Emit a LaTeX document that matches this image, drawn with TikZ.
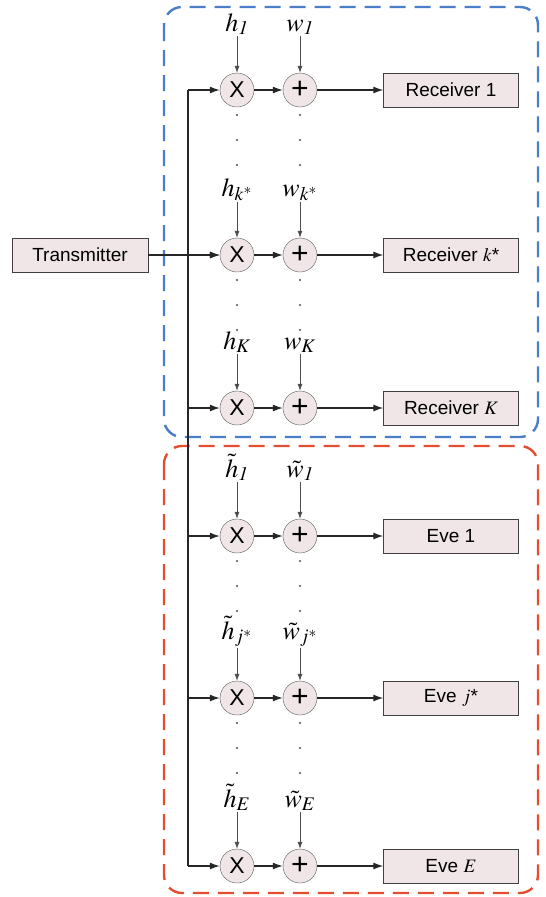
\documentclass[tikz,border=0pt]{standalone}
\usepackage{mathptmx}
\usepackage[no-math]{fontspec}
\setmainfont{Liberation Sans}
\usetikzlibrary{arrows.meta}

\definecolor{boxfill}{RGB}{240,230,232}
\definecolor{zoneblue}{RGB}{74,126,200}
\definecolor{zonered}{RGB}{228,78,48}

\tikzset{
  opnode/.style={circle, draw=black!65, fill=boxfill, minimum size=34pt, inner sep=0pt, font=\fontsize{23}{23}\selectfont},
  rxbox/.style={rectangle, draw=black!75, fill=boxfill, minimum width=135pt, minimum height=34pt, inner sep=0pt, font=\fontsize{19}{21}\selectfont},
  lbl/.style={anchor=base, inner sep=1pt, font=\fontsize{26}{28}\selectfont},
  flow/.style={-{Latex[length=10pt,width=7pt]}, line width=1.2pt, draw=black!85},
  feed/.style={-{Latex[length=7pt,width=5pt]}, line width=0.7pt, draw=black!70},
  zone/.style={dash pattern=on 16pt off 9pt, line width=2.4pt, rounded corners=18pt},
}

% one branch: name, y, channel label, noise label, receiver text
\newcommand{\branch}[5]{%
  \node[opnode] (mul#1) at (237,#2) {X};
  \node[opnode, font=\fontsize{30}{30}\selectfont] (add#1) at (300,#2) {\raisebox{1pt}{+}};
  \node[rxbox] (rx#1) at (451,#2) {#5};
  \node[lbl] (h#1) at (237,#2-59) {#3};
  \node[lbl] (w#1) at (300,#2-59) {#4};
  \coordinate (bus#1) at (188,#2);
  \draw[feed] (h#1) -- (mul#1);
  \draw[feed] (w#1) -- (add#1);
  \draw[flow] (bus#1) -- (mul#1);
  \draw[flow] (mul#1) -- (add#1);
  \draw[flow] (add#1) -- (rx#1);
}
\newcommand{\gapdots}[1]{%
  \foreach \d in {25,50,75} {
    \fill[black!70] (237,#1+\d) circle (1.1pt);
    \fill[black!70] (300,#1+\d) circle (1.1pt);
  }
}

\begin{document}
\begin{tikzpicture}[x=1pt, y=-1pt]
  \useasboundingbox (0,0) rectangle (546,897);
  % receivers
  \draw[zone, draw=zoneblue] (164,7) rectangle (538,437);
  % eavesdroppers
  \draw[zone, draw=zonered] (164,446) rectangle (538,893);

  % row 1
  \branch{1}{90}{$h_{\mathit{1}}$}{$w_{\mathit{1}}$}{Receiver 1}
  \gapdots{90}
  % row k*
  \branch{ks}{255}{$h_{k^*}$}{$w_{k^*}$}{Receiver $k$*}
  \gapdots{255}
  % row K
  \branch{K}{408}{$h_{K}$}{$w_{K}$}{Receiver $K$}
  % eve 1
  \branch{e1}{536}{$\tilde{h}_{\mathit{1}}$}{$\tilde{w}_{\mathit{1}}$}{Eve 1}
  \gapdots{536}
  % eve j*
  \branch{js}{698}{$\tilde{h}_{j^*}$}{$\tilde{w}_{j^*}$}{Eve $j$*}
  \gapdots{698}
  % eve E
  \branch{E}{866}{$\tilde{h}_{E}$}{$\tilde{w}_{E}$}{Eve $E$}

  % transmitter and bus
  \node[rxbox, minimum width=136pt] (tx) at (80,255) {Transmitter};
  \draw[line width=1.2pt, draw=black!85] (bus1) -- (busE);
  \draw[flow] (tx) -- (mulks);
\end{tikzpicture}
\end{document}
